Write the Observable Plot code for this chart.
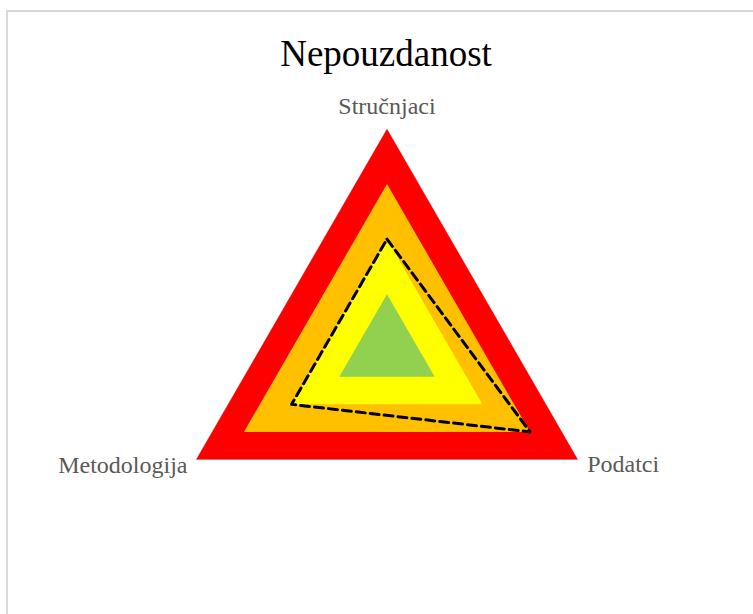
<!DOCTYPE html>
<html>
<head>
<meta charset="utf-8">
<script src="https://cdn.jsdelivr.net/npm/d3@7"></script>
<script src="https://cdn.jsdelivr.net/npm/@observablehq/plot@0.6"></script>
<style>
  html, body { margin: 0; padding: 0; background: #fff; overflow: hidden; width: 753px; height: 614px; }
  #frame { position: absolute; left: 6px; top: 10px; width: 900px; height: 800px; border: 2px solid #d9d9d9; box-sizing: border-box; }
  #chart { position: absolute; left: 0; top: 0; }
  #title { position: absolute; left: 0; top: 35px; width: 772px; text-align: center; font-family: "Liberation Serif", "Times New Roman", serif; font-size: 37px; line-height: 37px; color: #000; }
</style>
</head>
<body>
<div id="frame"></div>
<div id="chart"></div>
<div id="title">Nepouzdanost</div>
<script>
const axes = ["Stručnjaci", "Podatci", "Metodologija"];
const levels = [4, 3, 2, 1];
const levelColors = ["#FF0000", "#FFC000", "#FFFF00", "#92D050"];
const series = [2, 3, 2];

const angle = i => 2 * Math.PI * i / axes.length;
const levelRows = levels.flatMap(l => axes.map((a, i) => ({level: l, axis: a, i, r: l})));
const seriesRows = axes.map((a, i) => ({axis: a, i, r: series[i]}));
const labelRows = axes.map((a, i) => ({axis: a, i, r: d3.max(levels)}));

const X = d => d.r * Math.sin(angle(d.i));
const Y = d => d.r * Math.cos(angle(d.i));
const labelFont = {fontFamily: "Liberation Serif, Times New Roman, serif", fontSize: 24, fill: "#595959"};

const chart = Plot.plot({
  width: 753,
  height: 614,
  margin: 0,
  x: {domain: [-7.0183, 6.6552], range: [0, 753], axis: null},
  y: {domain: [-4.8157, 6.3337], range: [614, 0], axis: null},
  color: {type: "ordinal", domain: levels, range: levelColors},
  marks: [
    Plot.line(levelRows.filter(d => d.level === 4), {x: X, y: Y, stroke: "#d9d9d9", strokeWidth: 1.2, curve: "linear-closed"}),
    Plot.line(levelRows, {x: X, y: Y, z: "level", fill: "level", stroke: null, curve: "linear-closed"}),
    Plot.line(seriesRows, {x: X, y: Y, stroke: "black", strokeWidth: 3, strokeDasharray: "9,5", curve: "linear-closed"}),
    Plot.text(labelRows.filter(d => d.i === 0), {x: X, y: Y, text: "axis", textAnchor: "middle", dy: -23.2, ...labelFont}),
    Plot.text(labelRows.filter(d => d.i === 1), {x: X, y: Y, text: "axis", textAnchor: "start", dx: 9.4, dy: 5, ...labelFont}),
    Plot.text(labelRows.filter(d => d.i === 2), {x: X, y: Y, text: "axis", textAnchor: "end", dx: -8.7, dy: 5.6, ...labelFont})
  ]
});
document.getElementById("chart").appendChild(chart);
</script>
</body>
</html>
